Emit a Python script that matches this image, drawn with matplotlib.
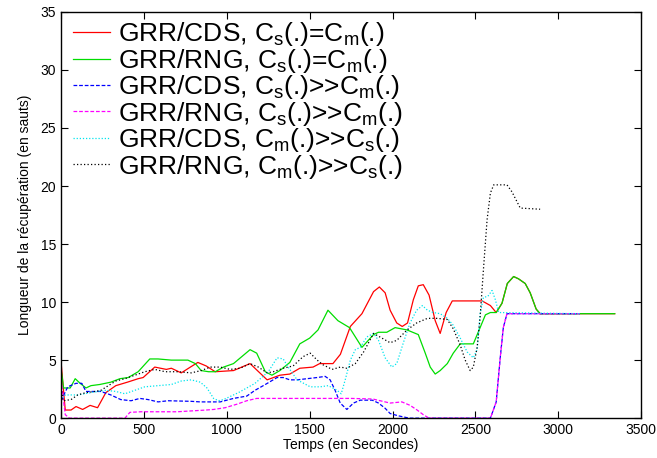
import matplotlib
matplotlib.use("Agg")
import matplotlib.pyplot as plt

plt.rcParams['font.family'] = ['Liberation Sans', 'DejaVu Sans']
plt.rcParams['mathtext.fontset'] = 'custom'
plt.rcParams['mathtext.rm'] = 'Liberation Sans'
plt.rcParams['mathtext.it'] = 'Liberation Sans'
plt.rcParams['mathtext.default'] = 'regular'

# GRR/CDS, Cs(.)=Cm(.)
red_t = [0, 25, 60, 90, 130, 175, 220, 270, 330, 400, 465, 495, 565, 635, 665, 725,
         780, 825, 875, 930, 1040, 1140, 1243, 1320, 1380, 1440, 1520, 1560, 1640,
         1685, 1745, 1815, 1885, 1920, 1955, 1985, 2025, 2058, 2090, 2125, 2155, 2185,
         2220, 2257, 2287, 2323, 2360, 2540, 2590, 2625, 2660, 2692, 2730, 2760, 2800,
         2830, 2866, 2890, 3340]
red_v = [4.8, 0.7, 0.7, 1.0, 0.75, 1.1, 0.9, 2.2, 2.8, 3.1, 3.4, 3.5, 4.4, 4.2, 4.3, 3.9,
         4.4, 4.8, 4.5, 4.0, 4.1, 4.7, 3.3, 3.7, 3.8, 4.3, 4.4, 4.7, 4.7,
         5.5, 7.9, 9.0, 10.9, 11.3, 10.8, 9.3, 8.2, 7.9, 8.2, 10.2, 11.4, 11.5,
         10.6, 8.4, 7.3, 9.1, 10.1, 10.1, 9.7, 9.1, 9.9, 11.6, 12.2, 12.0, 11.6,
         10.8, 9.4, 9.0, 9.0]

# GRR/RNG, Cs(.)=Cm(.)
green_t = [0, 15, 55, 85, 115, 150, 180, 233, 300, 355, 405, 465, 535, 585, 665, 765,
           810, 845, 890, 930, 980, 1040, 1090, 1140, 1180, 1232, 1272, 1320, 1380,
           1440, 1500, 1550, 1610, 1670, 1740, 1815, 1885, 1915, 1965, 2015, 2087, 2155,
           2197, 2227, 2257, 2287, 2330, 2366, 2408, 2487, 2528, 2560, 2590, 2625, 2660,
           2692, 2730, 2760, 2800, 2830, 2866, 2890, 3340]
green_v = [4.2, 2.6, 2.6, 3.4, 3.0, 2.6, 2.8, 2.9, 3.1, 3.4, 3.5, 4.0, 5.1, 5.1, 5.0, 5.0,
           4.7, 4.1, 4.0, 4.0, 4.4, 4.7, 5.3, 5.9, 5.6, 4.0, 3.7, 4.1, 4.8,
           6.4, 6.9, 7.6, 9.3, 8.4, 7.8, 6.1, 7.2, 7.4, 7.4, 7.8, 7.6, 7.2,
           5.6, 4.4, 3.8, 4.1, 4.7, 5.6, 6.4, 6.4, 7.8, 8.9, 9.1, 9.1, 9.9,
           11.6, 12.2, 12.0, 11.6, 10.8, 9.4, 9.0, 9.0]

# GRR/CDS, Cs(.)>>Cm(.)
blue_t = [0, 40, 90, 125, 150, 205, 240, 300, 360, 422, 475, 525, 585, 645, 785, 840,
          960, 1040, 1120, 1170, 1232, 1303, 1340, 1380, 1424, 1484, 1545, 1593, 1623,
          1653, 1684, 1724, 1764, 1805, 1877, 1915, 1955, 1985, 2035, 2100, 2590, 2625,
          2650, 2668, 2690, 3130]
blue_v = [1.5, 2.7, 3.0, 3.0, 2.3, 2.3, 2.3, 2.0, 1.6, 1.5, 1.7, 1.6, 1.4, 1.5, 1.45, 1.4,
          1.4, 1.7, 1.9, 2.4, 2.9, 3.5, 3.5, 3.3, 3.3, 3.4, 3.5, 3.6, 3.3,
          2.4, 1.3, 0.75, 1.3, 1.55, 1.55, 1.3, 0.85, 0.4, 0.2, 0.0, 0.0, 1.4,
          5.3, 7.8, 9.0, 9.0]

# GRR/RNG, Cs(.)>>Cm(.)
magenta_t = [0, 25, 50, 385, 415, 480, 700, 875, 920, 990, 1060, 1120, 1180, 1450, 1750,
             1880, 1985, 2056, 2106, 2148, 2185, 2220, 2590, 2625, 2650, 2668, 2690, 3130]
magenta_v = [3.3, 0.3, 0.0, 0.0, 0.5, 0.55, 0.55, 0.7, 0.75, 0.9, 1.2, 1.5, 1.7, 1.7, 1.7,
             1.65, 1.3, 1.4, 1.1, 0.7, 0.3, 0.0, 0.0, 1.4, 5.3, 7.8, 9.0, 9.0]

# GRR/CDS, Cm(.)>>Cs(.)
cyan_t = [0, 25, 100, 180, 270, 330, 385, 445, 505, 585, 665, 725, 785, 840, 880, 920,
          950, 980, 1070, 1170, 1250, 1303, 1340, 1370, 1424, 1503, 1563, 1612, 1665,
          1690, 1714, 1745, 1775, 1805, 1845, 1885, 1915, 1955, 1995, 2025, 2065, 2105,
          2145, 2180, 2210, 2245, 2287, 2330, 2366, 2408, 2450, 2487, 2510, 2528, 2548,
          2575, 2600, 2620, 2640, 3130]
cyan_v = [1.5, 2.0, 2.0, 2.2, 2.4, 2.3, 2.1, 2.4, 2.7, 2.8, 2.9, 3.2, 3.3, 3.1, 2.6, 1.7,
          1.5, 1.6, 2.2, 3.0, 4.0, 5.2, 5.1, 4.4, 3.3, 2.7, 2.7, 2.8, 2.4,
          2.1, 3.3, 5.0, 5.9, 6.1, 7.0, 7.3, 6.7, 5.2, 4.4, 4.7, 6.5, 8.2,
          9.3, 9.7, 9.3, 9.1, 9.0, 8.6, 8.0, 6.9, 5.7, 5.2, 5.9, 9.0, 10.4,
          10.5, 11.0, 10.2, 9.1, 9.0]

# GRR/RNG, Cm(.)>>Cs(.)
black_t = [0, 12, 60, 100, 150, 205, 240, 285, 330, 385, 445, 505, 565, 628, 705, 785,
           845, 900, 960, 1020, 1080, 1140, 1190, 1243, 1280, 1340, 1400, 1460, 1503,
           1545, 1580, 1635, 1684, 1724, 1775, 1825, 1885, 1935, 1985, 2025, 2087, 2145,
           2210, 2270, 2330, 2366, 2408, 2438, 2468, 2487, 2510, 2528, 2548, 2570, 2590,
           2610, 2690, 2720, 2770, 2890]
black_v = [2.6, 1.5, 1.6, 2.0, 2.2, 2.3, 2.4, 2.8, 3.2, 3.4, 3.7, 4.0, 4.2, 4.0, 4.0, 3.9,
           4.1, 4.4, 4.4, 4.2, 4.3, 4.7, 4.4, 3.9, 4.0, 4.3, 4.5, 5.3, 5.6,
           5.0, 4.6, 4.2, 4.4, 4.3, 4.7, 5.7, 7.3, 6.9, 6.5, 6.7, 7.6, 8.2,
           8.6, 8.6, 8.5, 7.7, 6.3, 5.0, 4.1, 4.4, 6.1, 8.7, 12.8, 17.1, 19.4,
           20.1, 20.1, 19.5, 18.1, 18.0]

labels = [r'GRR/CDS, C$_s$(.)=C$_m$(.)',
          r'GRR/RNG, C$_s$(.)=C$_m$(.)',
          r'GRR/CDS, C$_s$(.)>>C$_m$(.)',
          r'GRR/RNG, C$_s$(.)>>C$_m$(.)',
          r'GRR/CDS, C$_m$(.)>>C$_s$(.)',
          r'GRR/RNG, C$_m$(.)>>C$_s$(.)']

fig = plt.figure(figsize=(6.57, 4.58), dpi=100)
ax = fig.add_axes([0.093, 0.087, 0.883, 0.887])

lw = 0.9
ax.plot(red_t, red_v, color='#ff0000', lw=lw, label=labels[0])
ax.plot(green_t, green_v, color='#00dd00', lw=lw, label=labels[1])
ax.plot(blue_t, blue_v, color='#0000ff', lw=lw, ls=(0, (3, 1.5)), label=labels[2])
ax.plot(magenta_t, magenta_v, color='#ff00ff', lw=lw, ls=(0, (3, 1.5)), label=labels[3])
ax.plot(cyan_t, cyan_v, color='#00e5ee', lw=lw, ls=(0, (1, 1.5)), label=labels[4])
ax.plot(black_t, black_v, color='#000000', lw=lw, ls=(0, (1, 1.8)), label=labels[5])

ax.set_xlim(0, 3500)
ax.set_ylim(0, 35)
ax.set_xticks(range(0, 3501, 500))
ax.set_yticks(range(0, 36, 5))
ax.tick_params(direction='in', top=True, right=True, labelsize=10, length=5, width=0.8)
ax.set_xlabel('Temps (en Secondes)', fontsize=10, labelpad=1)
ax.set_ylabel('Longueur de la récupération (en sauts)', fontsize=10, labelpad=6)
for s in ax.spines.values():
    s.set_linewidth(1.0)

ax.legend(loc='upper left', frameon=False, fontsize=19, handlelength=1.4,
          handletextpad=0.3, labelspacing=-0.06, borderaxespad=0.0,
          bbox_to_anchor=(0.002, 1.005))

fig.savefig('out.png', dpi=100)
